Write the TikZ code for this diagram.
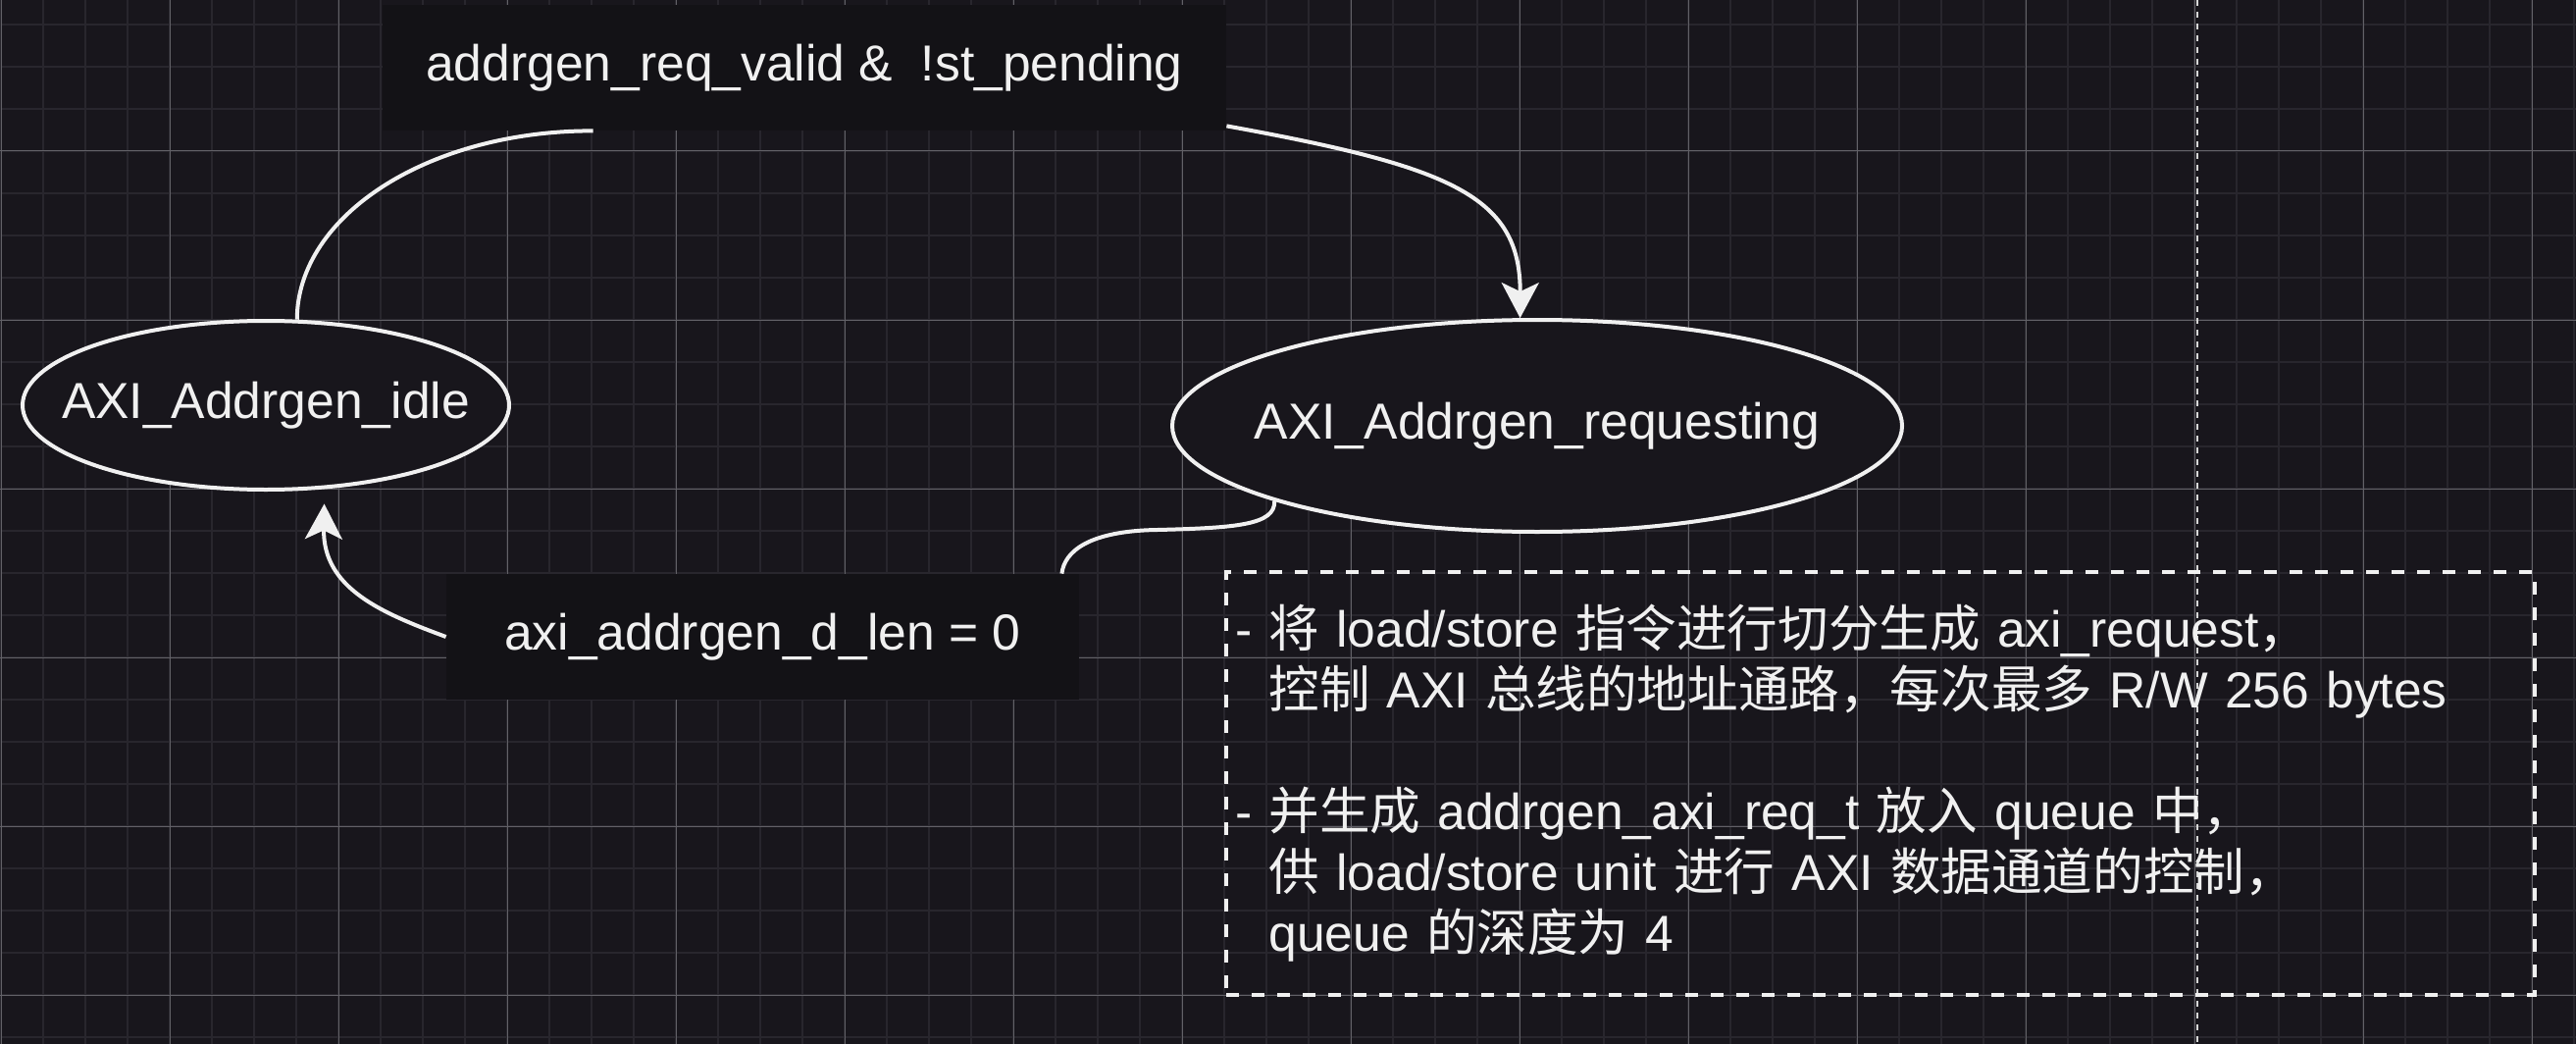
\documentclass[tikz,border=0pt]{standalone}
\usepackage{fontspec}
\setmainfont{Liberation Sans}
\newfontfamily\cjk{Noto Sans CJK SC}
\usetikzlibrary{shapes.geometric,arrows.meta,calc}

\definecolor{canvas}{HTML}{18161C}
\definecolor{gridminor}{HTML}{28262D}
\definecolor{gridmajor}{HTML}{626167}
\definecolor{lblfill}{HTML}{131216}
\definecolor{ink}{HTML}{F0F0F0}
\definecolor{pagebreak}{HTML}{D8D8D8}
\newcommand{\zh}[1]{{\cjk #1}}
\newcommand{\ind}{\phantom{-}\ }

\tikzset{
  state/.style={ellipse, draw=ink, line width=2pt, fill=canvas, text=ink, inner sep=0pt},
  guard/.style={fill=lblfill, text=ink, inner sep=0pt, minimum height=64pt},
  trans/.style={draw=ink, line width=2pt, -{Stealth[length=18pt,width=19pt,inset=4.5pt]}},
}

\begin{document}
\begin{tikzpicture}[x=0.5pt, y=-0.5pt, font=\fontsize{25.8}{31}\selectfont]
\fill[canvas] (0,0) rectangle (2626,1064);
\useasboundingbox (0,0) rectangle (2626,1064);
\foreach \x in {1,44,...,2626}
  {\draw[gridminor, line width=1pt] (\x,0) -- (\x,1064);}
\foreach \y in {25,68,...,1064}
  {\draw[gridminor, line width=1pt] (0,\y) -- (2626,\y);}
\foreach \x in {1,173,...,2626}
  {\draw[gridmajor, line width=0.5pt] (\x,0) -- (\x,1064);}
\foreach \y in {154,326,...,1064}
  {\draw[gridmajor, line width=0.5pt] (0,\y) -- (2626,\y);}
\draw[pagebreak, line width=1pt, dash pattern=on 3pt off 3pt] (2240,0) -- (2240,1064);

\node[state, minimum width=248pt, minimum height=86pt] (idle) at (271,413) {\makebox[0pt]{AXI\_Addrgen\_idle}};
\node[state, minimum width=372pt, minimum height=108pt] (req) at (1567,434) {\makebox[0pt]{AXI\_Addrgen\_requesting}};
\node[guard, minimum width=430pt] (go) at (820,69) {addrgen\_req\_valid \&\ \ !st\_pending};
\node[guard, minimum width=322.5pt] (done) at (777.5,649) {axi\_addrgen\_d\_len = 0};

\draw[trans] (idle.70) .. controls (303,219) and (438,133) .. ($(go.south west)+(215,0)$)
  ($(go.south east)+(0,-5)$) .. controls (1480,170) and (1550,200) .. (req.99);
\draw[trans, shorten >=7.5pt] (req.196) .. controls (1300,535) and (1260,538) .. (1180,540)
  .. controls (1110,541) and (1085,562) .. ($(done.north east)+(-18,0)$)
  (done.west) .. controls (390,625) and (329,600) .. (idle.-55);

\node[draw=ink, line width=1.75pt, dash pattern=on 6.5pt off 6.5pt, minimum width=667pt, minimum height=215.5pt,
  text width=658pt, inner xsep=4.5pt, align=left, text=ink] (note) at (1917,798.5)
  {- \zh{将} load/store \zh{指令进行切分生成} axi\_request\zh{，}\\
   \ind\zh{控制} AXI \zh{总线的地址通路，每次最多} R/W 256 bytes\\[31pt]
   - \zh{并生成} addrgen\_axi\_req\_t \zh{放入} queue \zh{中，}\\
   \ind\zh{供} load/store unit \zh{进行} AXI \zh{数据通道的控制，}\\
   \ind queue \zh{的深度为} 4};
\end{tikzpicture}
\end{document}
